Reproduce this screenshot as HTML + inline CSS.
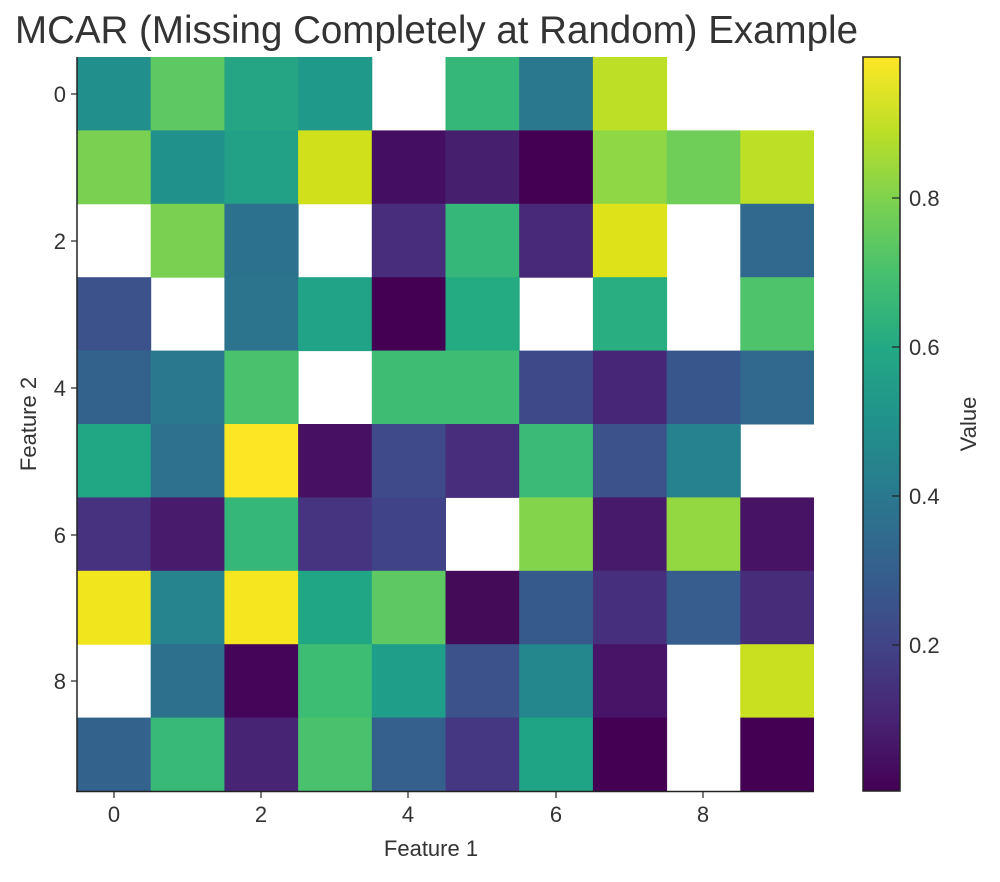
<!DOCTYPE html>
<html><head><style>body{margin:0;background:#fff}</style></head><body>
<svg width="1000" height="877" xmlns="http://www.w3.org/2000/svg" font-family="Liberation Sans, DejaVu Sans, sans-serif" fill="#333">
<defs><linearGradient id="v" x1="0" y1="1" x2="0" y2="0">
<stop offset="0" stop-color="#440154"/><stop offset="0.1" stop-color="#482475"/><stop offset="0.2" stop-color="#414487"/><stop offset="0.3" stop-color="#355f8d"/><stop offset="0.4" stop-color="#2a788e"/><stop offset="0.5" stop-color="#21918c"/><stop offset="0.6" stop-color="#22a884"/><stop offset="0.7" stop-color="#44bf70"/><stop offset="0.8" stop-color="#7ad151"/><stop offset="0.9" stop-color="#bddf26"/><stop offset="1" stop-color="#fde725"/></linearGradient></defs>
<text x="15" y="43" font-size="38.5">MCAR (Missing Completely at Random) Example</text>
<g>
<g transform="translate(0,57)">
<rect x="77" width="74.2" height="73.9" fill="#21908d"/><rect x="150.7" width="74.2" height="73.9" fill="#5ec962"/><rect x="224.4" width="74.2" height="73.9" fill="#25a584"/><rect x="298.1" width="74.2" height="73.9" fill="#1f9a8a"/><rect x="445.5" width="74.2" height="73.9" fill="#35b779"/><rect x="519.2" width="74.2" height="73.9" fill="#2a788e"/><rect x="592.9" width="74.2" height="73.9" fill="#bddf26"/>
</g>
<g transform="translate(0,130.4)">
<rect x="77" width="74.2" height="73.9" fill="#7ad151"/><rect x="150.7" width="74.2" height="73.9" fill="#21918c"/><rect x="224.4" width="74.2" height="73.9" fill="#22a187"/><rect x="298.1" width="74.2" height="73.9" fill="#d0e11c"/><rect x="371.8" width="74.2" height="73.9" fill="#440f63"/><rect x="445.5" width="74.2" height="73.9" fill="#46206f"/><rect x="519.2" width="74.2" height="73.9" fill="#440154"/><rect x="592.9" width="74.2" height="73.9" fill="#8fd744"/><rect x="666.6" width="74.2" height="73.9" fill="#6ece58"/><rect x="740.3" width="73.7" height="73.9" fill="#bddf26"/>
</g>
<g transform="translate(0,203.8)">
<rect x="150.7" width="74.2" height="73.9" fill="#7ad151"/><rect x="224.4" width="74.2" height="73.9" fill="#2c728e"/><rect x="371.8" width="74.2" height="73.9" fill="#472d7b"/><rect x="445.5" width="74.2" height="73.9" fill="#35b779"/><rect x="519.2" width="74.2" height="73.9" fill="#482878"/><rect x="592.9" width="74.2" height="73.9" fill="#dde318"/><rect x="740.3" width="73.7" height="73.9" fill="#31688e"/>
</g>
<g transform="translate(0,277.2)">
<rect x="77" width="74.2" height="73.9" fill="#3b528b"/><rect x="224.4" width="74.2" height="73.9" fill="#2c738e"/><rect x="298.1" width="74.2" height="73.9" fill="#20a386"/><rect x="371.8" width="74.2" height="73.9" fill="#440154"/><rect x="445.5" width="74.2" height="73.9" fill="#25ab82"/><rect x="592.9" width="74.2" height="73.9" fill="#28ae80"/><rect x="740.3" width="73.7" height="73.9" fill="#4ec36b"/>
</g>
<g transform="translate(0,350.6)">
<rect x="77" width="74.2" height="73.9" fill="#33638d"/><rect x="150.7" width="74.2" height="73.9" fill="#2a788e"/><rect x="224.4" width="74.2" height="73.9" fill="#4ac16d"/><rect x="371.8" width="74.2" height="73.9" fill="#3fbc73"/><rect x="445.5" width="74.2" height="73.9" fill="#3fbc73"/><rect x="519.2" width="74.2" height="73.9" fill="#3e4989"/><rect x="592.9" width="74.2" height="73.9" fill="#482677"/><rect x="666.6" width="74.2" height="73.9" fill="#39568c"/><rect x="740.3" width="73.7" height="73.9" fill="#31688e"/>
</g>
<g transform="translate(0,424)">
<rect x="77" width="74.2" height="73.9" fill="#22a785"/><rect x="150.7" width="74.2" height="73.9" fill="#2d718e"/><rect x="224.4" width="74.2" height="73.9" fill="#fde725"/><rect x="298.1" width="74.2" height="73.9" fill="#471063"/><rect x="371.8" width="74.2" height="73.9" fill="#3e4a89"/><rect x="445.5" width="74.2" height="73.9" fill="#472d7b"/><rect x="519.2" width="74.2" height="73.9" fill="#3aba76"/><rect x="592.9" width="74.2" height="73.9" fill="#3b528b"/><rect x="666.6" width="74.2" height="73.9" fill="#26828e"/>
</g>
<g transform="translate(0,497.4)">
<rect x="77" width="74.2" height="73.9" fill="#46327e"/><rect x="150.7" width="74.2" height="73.9" fill="#481b6d"/><rect x="224.4" width="74.2" height="73.9" fill="#35b779"/><rect x="298.1" width="74.2" height="73.9" fill="#463480"/><rect x="371.8" width="74.2" height="73.9" fill="#404387"/><rect x="519.2" width="74.2" height="73.9" fill="#84d44b"/><rect x="592.9" width="74.2" height="73.9" fill="#481a6c"/><rect x="666.6" width="74.2" height="73.9" fill="#93d741"/><rect x="740.3" width="73.7" height="73.9" fill="#471365"/>
</g>
<g transform="translate(0,570.8)">
<rect x="77" width="74.2" height="73.9" fill="#f1e51d"/><rect x="150.7" width="74.2" height="73.9" fill="#25848e"/><rect x="224.4" width="74.2" height="73.9" fill="#f6e620"/><rect x="298.1" width="74.2" height="73.9" fill="#21a685"/><rect x="371.8" width="74.2" height="73.9" fill="#5ec962"/><rect x="445.5" width="74.2" height="73.9" fill="#440b59"/><rect x="519.2" width="74.2" height="73.9" fill="#375a8c"/><rect x="592.9" width="74.2" height="73.9" fill="#46307e"/><rect x="666.6" width="74.2" height="73.9" fill="#365d8d"/><rect x="740.3" width="73.7" height="73.9" fill="#472c7a"/>
</g>
<g transform="translate(0,644.2)">
<rect x="150.7" width="74.2" height="73.9" fill="#2d708e"/><rect x="224.4" width="74.2" height="73.9" fill="#450559"/><rect x="298.1" width="74.2" height="73.9" fill="#3dbc74"/><rect x="371.8" width="74.2" height="73.9" fill="#1f9e89"/><rect x="445.5" width="74.2" height="73.9" fill="#3b528b"/><rect x="519.2" width="74.2" height="73.9" fill="#24878e"/><rect x="592.9" width="74.2" height="73.9" fill="#481467"/><rect x="740.3" width="73.7" height="73.9" fill="#c8e020"/>
</g>
<g transform="translate(0,717.6)">
<rect x="77" width="74.2" height="73.4" fill="#33638d"/><rect x="150.7" width="74.2" height="73.4" fill="#38b977"/><rect x="224.4" width="74.2" height="73.4" fill="#482475"/><rect x="298.1" width="74.2" height="73.4" fill="#4ac16d"/><rect x="371.8" width="74.2" height="73.4" fill="#355f8d"/><rect x="445.5" width="74.2" height="73.4" fill="#453781"/><rect x="519.2" width="74.2" height="73.4" fill="#20a486"/><rect x="592.9" width="74.2" height="73.4" fill="#440154"/><rect x="740.3" width="73.7" height="73.4" fill="#440154"/>
</g>
</g>
<line x1="77" y1="57" x2="77" y2="792" stroke="#222" stroke-width="1.5"/>
<line x1="76" y1="791.5" x2="814" y2="791.5" stroke="#222" stroke-width="1.5"/>
<g font-size="22" text-anchor="middle">
<text x="114" y="822">0</text><text x="261" y="822">2</text><text x="408" y="822">4</text><text x="556" y="822">6</text><text x="703" y="822">8</text>
<text x="431" y="856">Feature 1</text></g>
<g stroke="#222" stroke-width="1.2"><line x1="114" y1="792" x2="114" y2="798"/><line x1="261" y1="792" x2="261" y2="798"/><line x1="408" y1="792" x2="408" y2="798"/><line x1="556" y1="792" x2="556" y2="798"/><line x1="703" y1="792" x2="703" y2="798"/>
<line x1="71" y1="94" x2="77" y2="94"/><line x1="71" y1="241" x2="77" y2="241"/><line x1="71" y1="388" x2="77" y2="388"/><line x1="71" y1="535" x2="77" y2="535"/><line x1="71" y1="681" x2="77" y2="681"/></g>
<g font-size="22" text-anchor="end"><text x="66" y="102">0</text><text x="66" y="249">2</text><text x="66" y="396">4</text><text x="66" y="543">6</text><text x="66" y="689">8</text></g>
<text transform="translate(36,424) rotate(-90)" font-size="22" text-anchor="middle">Feature 2</text>
<rect x="863" y="57" width="37" height="734" fill="url(#v)" stroke="#222" stroke-width="1.5"/>
<g stroke="#222" stroke-width="1.2"><line x1="892" y1="198" x2="900" y2="198"/><line x1="892" y1="347" x2="900" y2="347"/><line x1="892" y1="496" x2="900" y2="496"/><line x1="892" y1="645" x2="900" y2="645"/></g>
<g font-size="22"><text x="909" y="206">0.8</text><text x="909" y="355">0.6</text><text x="909" y="504">0.4</text><text x="909" y="653">0.2</text></g>
<text transform="translate(976,424) rotate(-90)" font-size="22" text-anchor="middle">Value</text>
</svg>
</body></html>
